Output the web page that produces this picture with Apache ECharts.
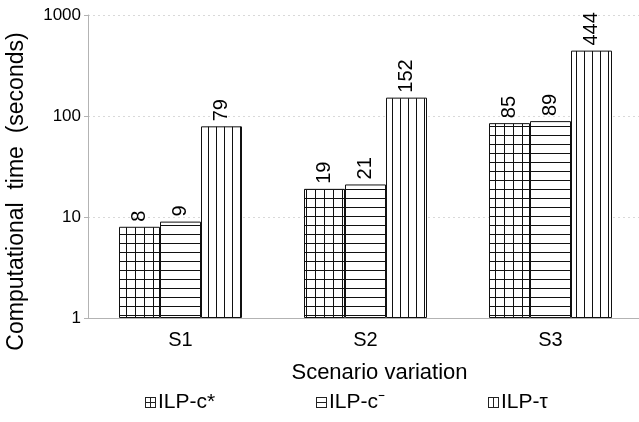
<!DOCTYPE html>
<html>
<head>
<meta charset="UTF-8">
<title>Computational time</title>
<script src="https://cdn.jsdelivr.net/npm/echarts@6/dist/echarts.min.js"></script>
<style>
    html, body { margin: 0; padding: 0; background: #fff; }
    #chart { width: 639px; height: 422px; }
</style>
</head>
<body>
<div id="chart"></div>
<script>
    // data
    const scenarios = ['S1', 'S2', 'S3'];
    const seriesNames = ['ILP-c*', 'ILP-c\u207B', 'ILP-\u03C4'];
    const ilpCStar = [8, 19, 85];
    const ilpCMinus = [9, 21, 89];
    const ilpTau = [79, 152, 444];
    const yTicks = [1, 10, 100, 1000];

    // hatch patterns drawn on small canvases
    function makePattern(w, h, drawH, drawV) {
        const c = document.createElement('canvas');
        c.width = w;
        c.height = h;
        const ctx = c.getContext('2d');
        ctx.fillStyle = '#fff';
        ctx.fillRect(0, 0, w, h);
        ctx.strokeStyle = '#111';
        ctx.lineWidth = 1;
        ctx.beginPath();
        if (drawH) { ctx.moveTo(0, 0.5); ctx.lineTo(w, 0.5); }
        if (drawV) { ctx.moveTo(0.5, 0); ctx.lineTo(0.5, h); }
        ctx.stroke();
        return { image: c, repeat: 'repeat' };
    }
    // small legend symbols: box with a cross / one horizontal / one vertical line
    function makeIcon(drawH, drawV) {
        const c = document.createElement('canvas');
        c.width = 11;
        c.height = 11;
        const ctx = c.getContext('2d');
        ctx.fillStyle = '#fff';
        ctx.fillRect(0, 0, 11, 11);
        ctx.strokeStyle = '#222';
        ctx.lineWidth = 1;
        ctx.strokeRect(0.5, 0.5, 10, 10);
        ctx.beginPath();
        if (drawH) { ctx.moveTo(0, 5.5); ctx.lineTo(11, 5.5); }
        if (drawV) { ctx.moveTo(5.5, 0); ctx.lineTo(5.5, 11); }
        ctx.stroke();
        return 'image://' + c.toDataURL();
    }
    const patterns = [
        makePattern(9, 9, true, true),
        makePattern(9, 9, true, false),
        makePattern(8, 8, false, true)
    ];
    const icons = [makeIcon(true, true), makeIcon(true, false), makeIcon(false, true)];
    const values = [ilpCStar, ilpCMinus, ilpTau];

    const chart = echarts.init(document.getElementById('chart'));
    const font = 'Liberation Sans, Arial, sans-serif';

    const option = {
        animation: false,
        textStyle: { fontFamily: font },
        grid: { left: 88, top: 15, width: 555, bottom: 104, outerBoundsMode: 'none', containLabel: false },
        legend: seriesNames.map((n, i) => ({
            data: [{ name: n, icon: icons[i] }],
            left: [145, 316, 488][i],
            top: 392,
            padding: 0,
            itemWidth: 11,
            itemHeight: 11,
            textStyle: { fontSize: 21, color: '#000', fontFamily: font, padding: [0, 0, 0, -3] }
        })),
        xAxis: {
            type: 'category',
            data: scenarios,
            name: 'Scenario variation',
            nameLocation: 'middle',
            nameGap: 44,
            nameTextStyle: { fontSize: 22, color: '#000', padding: [0, 0, 0, 28] },
            axisLine: { lineStyle: { color: '#b3b3b3' } },
            axisTick: { length: 5, lineStyle: { color: '#b3b3b3' } },
            axisLabel: { fontSize: 20, color: '#000', margin: 12 }
        },
        yAxis: {
            type: 'log',
            logBase: 10,
            min: yTicks[0],
            max: yTicks[yTicks.length - 1],
            name: 'Computational  time  (seconds)',
            nameLocation: 'middle',
            nameGap: 60,
            nameTextStyle: { fontSize: 23, color: '#000', padding: [0, 50, 0, 0] },
            axisLine: { show: true, lineStyle: { color: '#b3b3b3' } },
            axisTick: { show: true, length: 4, lineStyle: { color: '#b3b3b3' } },
            axisLabel: { fontSize: 17, color: '#000', margin: 7, formatter: v => String(v) },
            splitLine: { lineStyle: { color: '#d9d9d9', type: [2, 3] } }
        },
        series: seriesNames.map((n, i) => ({
            name: n,
            type: 'bar',
            data: values[i],
            barWidth: 41,
            barGap: '0%',
            itemStyle: {
                color: patterns[i],
                borderColor: '#111',
                borderWidth: 1
            },
            label: {
                show: true,
                position: 'top',
                rotate: 90,
                align: 'left',
                verticalAlign: 'middle',
                distance: 5,
                fontSize: 20,
                color: '#000'
            }
        }))
    };
    chart.setOption(option);
</script>
</body>
</html>
